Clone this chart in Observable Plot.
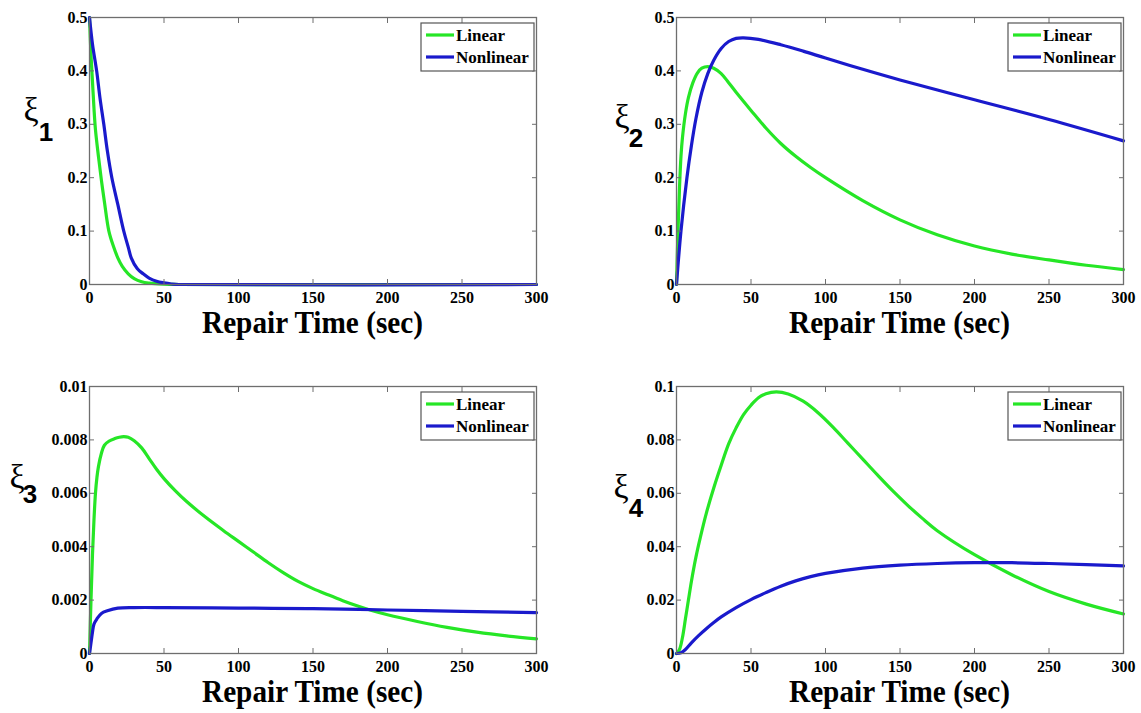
<!DOCTYPE html>
<html><head><meta charset="utf-8">
<script src="https://cdn.jsdelivr.net/npm/d3@7"></script>
<script src="https://cdn.jsdelivr.net/npm/@observablehq/plot@0.6"></script>
<style>
html,body{margin:0;padding:0;background:#fff;}
#wrap{position:relative;width:1141px;height:713px;background:#fff;}
.panel{position:absolute;}
</style></head><body><div id="wrap"></div>
<script>
const xTicks = [0, 50, 100, 150, 200, 250, 300];
const seriesNames = ["Linear", "Nonlinear"];
const xLabel = "Repair Time (sec)";

// Panel 1 (xi_1)
const tLin1 = [0, 1, 2, 3, 4, 6, 8, 10, 13, 16, 19, 22, 26, 30, 35, 40, 50, 60, 300];
const lin1  = [0.5, 0.43, 0.38, 0.33, 0.29, 0.24, 0.195, 0.155, 0.1, 0.072, 0.05, 0.034, 0.02, 0.011, 0.005, 0.0025, 0.0005, 0, 0];
const tNon1 = [0, 2, 4.8, 7, 9.6, 12, 15, 19, 23, 26, 28, 32, 36, 40, 45, 50, 55, 60, 300];
const non1  = [0.5, 0.45, 0.4, 0.35, 0.3, 0.25, 0.2, 0.15, 0.1, 0.07, 0.05, 0.03, 0.02, 0.012, 0.006, 0.003, 0.001, 0, 0];

// Panel 2 (xi_2)
const tLin2 = [0, 1, 2, 3, 4, 6, 8, 11, 14, 17, 21, 25, 30, 35, 40, 50, 60, 70, 80, 90, 100, 125, 150, 175, 200, 225, 250, 275, 300];
const lin2  = [0, 0.1, 0.18, 0.24, 0.275, 0.32, 0.35, 0.378, 0.396, 0.405, 0.408, 0.405, 0.395, 0.378, 0.36, 0.326, 0.293, 0.264, 0.24, 0.219, 0.2, 0.157, 0.121, 0.093, 0.072, 0.057, 0.046, 0.036, 0.028];
const tNon2 = [0, 3, 7, 10, 13, 17, 21, 25, 30, 35, 40, 45, 55, 70, 85, 100, 125, 150, 200, 250, 300];
const non2  = [0, 0.1, 0.2, 0.26, 0.31, 0.36, 0.395, 0.42, 0.442, 0.455, 0.461, 0.462, 0.459, 0.449, 0.437, 0.424, 0.403, 0.383, 0.346, 0.309, 0.269];

// Panel 3 (xi_3)
const tLin3 = [0, 1, 2, 3, 4, 5, 6, 8, 10, 13, 17, 20, 23, 26, 30, 35, 40, 45, 50, 57.5, 65, 78, 90, 100, 110, 120, 130, 140, 150, 160, 170, 180, 190, 200, 220, 240, 260, 280, 300];
const lin3  = [0, 0.002, 0.0037, 0.005, 0.006, 0.0066, 0.007, 0.0075, 0.0078, 0.00795, 0.00805, 0.0081, 0.00812, 0.0081, 0.00797, 0.0077, 0.0073, 0.0069, 0.00655, 0.0061, 0.0057, 0.0051, 0.0046, 0.0042, 0.0038, 0.0034, 0.00303, 0.0027, 0.00243, 0.0022, 0.00198, 0.00178, 0.0016, 0.00145, 0.0012, 0.00098, 0.0008, 0.00066, 0.00055];
const tNon3 = [0, 1, 2, 3, 5, 8, 12, 19, 30, 50, 100, 150, 200, 250, 300];
const non3  = [0, 0.0004, 0.0008, 0.0011, 0.0013, 0.0015, 0.0016, 0.0017, 0.00172, 0.00172, 0.0017, 0.00168, 0.00163, 0.00158, 0.00153];

// Panel 4 (xi_4)
const tLin4 = [0, 2, 4, 6, 8, 10, 13, 16, 20, 25, 30, 35, 40, 45, 50, 55, 60, 67, 75, 85, 95, 105, 115, 125, 135, 145, 155, 165, 175, 200, 225, 250, 275, 300];
const lin4  = [0, 0.0015, 0.006, 0.013, 0.02, 0.027, 0.036, 0.0435, 0.0525, 0.062, 0.0705, 0.0785, 0.0845, 0.0895, 0.093, 0.0958, 0.0973, 0.098, 0.0972, 0.0945, 0.0902, 0.0848, 0.0788, 0.0728, 0.0668, 0.061, 0.0556, 0.0506, 0.046, 0.037, 0.0295, 0.0232, 0.0185, 0.0148];
const tNon4 = [0, 3, 6, 10, 15, 20, 25, 30, 40, 50, 60, 70, 80, 90, 100, 125, 150, 175, 200, 225, 250, 275, 300];
const non4  = [0, 0.0003, 0.0015, 0.004, 0.0068, 0.0093, 0.0116, 0.0137, 0.0172, 0.0202, 0.0228, 0.0252, 0.0272, 0.0288, 0.03, 0.032, 0.0331, 0.0337, 0.034, 0.034, 0.0337, 0.0333, 0.0328];

const yTicks12 = [0, 0.1, 0.2, 0.3, 0.4, 0.5];
const yTicks3 = [0, 0.002, 0.004, 0.006, 0.008, 0.01];
const yTicks4 = [0, 0.02, 0.04, 0.06, 0.08, 0.1];
const subs = ["1", "2", "3", "4"];

const GREEN = "#26e626";
const BLUE = "#1a1acc";
const FRAME = "#6e6e6e";
const SERIF = "'Liberation Serif', 'Times New Roman', serif";
const SANS = "'Liberation Sans', Arial, sans-serif";

const rows = (t, v) => t.map((d, i) => ({t: d, v: v[i]}));
const fmt = d => d === 0 ? "0" : String(+d.toFixed(4));

const panels = [
  {left: 0, top: 0, w: 570, h: 360, mL: 89, mR: 34, mT: 17, mB: 76, yMax: 0.5, yTicks: yTicks12, lin: rows(tLin1, lin1), non: rows(tNon1, non1), sub: subs[0], xiX: 31, xiY: 121, sX: 46, sY: 141},
  {left: 570, top: 0, w: 571, h: 360, mL: 106, mR: 18, mT: 17, mB: 76, yMax: 0.5, yTicks: yTicks12, lin: rows(tLin2, lin2), non: rows(tNon2, non2), sub: subs[1], xiX: 52, xiY: 128, sX: 66, sY: 147},
  {left: 0, top: 360, w: 570, h: 353, mL: 89, mR: 34, mT: 26, mB: 60, yMax: 0.01, yTicks: yTicks3, lin: rows(tLin3, lin3), non: rows(tNon3, non3), sub: subs[2], xiX: 17, xiY: 128, sX: 30, sY: 143},
  {left: 570, top: 360, w: 571, h: 353, mL: 106, mR: 18, mT: 26, mB: 60, yMax: 0.1, yTicks: yTicks4, lin: rows(tLin4, lin4), non: rows(tNon4, non4), sub: subs[3], xiX: 51, xiY: 138, sX: 66, sY: 157}
];

const wrap = document.getElementById("wrap");

for (const p of panels) {
  const blank = () => "";
  const svg = Plot.plot({
    width: p.w, height: p.h,
    marginLeft: p.mL, marginRight: p.mR, marginTop: p.mT, marginBottom: p.mB,
    x: {domain: [0, 300]},
    y: {domain: [0, p.yMax]},
    style: {fontFamily: SERIF, fontSize: "16px", fontWeight: "bold", color: "#000", background: "transparent", overflow: "visible"},
    marks: [
      Plot.line(p.lin, {x: "t", y: "v", stroke: GREEN, strokeWidth: 3.2, curve: "catmull-rom"}),
      Plot.line(p.non, {x: "t", y: "v", stroke: BLUE, strokeWidth: 3.2, curve: "catmull-rom"}),
      Plot.frame({stroke: FRAME, strokeWidth: 1.3}),
      Plot.axisX(xTicks, {anchor: "bottom", tickSize: 0, tickPadding: 7, label: null, fontSize: 16, fontFamily: SERIF, fontWeight: "bold", fill: "#000"}),
      Plot.axisX(xTicks, {anchor: "bottom", tickSize: -5, tickFormat: blank, label: null, stroke: FRAME}),
      Plot.axisX(xTicks, {anchor: "top", tickSize: -5, tickFormat: blank, label: null, stroke: FRAME}),
      Plot.axisY(p.yTicks, {anchor: "left", tickSize: 0, tickPadding: 2, tickFormat: fmt, label: null, fontSize: 16, fontFamily: SERIF, fontWeight: "bold", fill: "#000"}),
      Plot.axisY(p.yTicks, {anchor: "left", tickSize: -5, tickFormat: blank, label: null, stroke: FRAME}),
      Plot.axisY(p.yTicks, {anchor: "right", tickSize: -5, tickFormat: blank, label: null, stroke: FRAME})
    ]
  });
  svg.classList.add("panel");
  svg.style.left = p.left + "px";
  svg.style.top = p.top + "px";
  wrap.appendChild(svg);

  const s = d3.select(svg);
  const plotL = p.mL, plotR = p.w - p.mR, plotT = p.mT, plotB = p.h - p.mB;

  // x axis title
  s.append("text")
    .attr("x", (plotL + plotR) / 2).attr("y", plotB + 49)
    .attr("text-anchor", "middle")
    .attr("textLength", 221).attr("lengthAdjust", "spacingAndGlyphs")
    .style("font-family", SERIF).style("font-weight", "bold").style("font-size", "32px")
    .attr("fill", "#000").text(xLabel);

  // y axis title: xi with subscript
  s.append("text")
    .attr("x", p.xiX).attr("y", p.xiY).attr("text-anchor", "middle")
    .style("font-family", SERIF).style("font-weight", "normal").style("font-size", "34px")
    .attr("fill", "#000").text("ξ");
  s.append("text")
    .attr("x", p.sX).attr("y", p.sY).attr("text-anchor", "middle")
    .style("font-family", SANS).style("font-weight", "bold").style("font-size", "26px")
    .attr("fill", "#000").text(p.sub);

  // legend
  const bx = plotR - 115, by = plotT + 6, bw = 113, bh = 48;
  const g = s.append("g");
  g.append("rect").attr("x", bx).attr("y", by).attr("width", bw).attr("height", bh)
    .attr("fill", "#fff").attr("stroke", "#555").attr("stroke-width", 1.2);
  const colors = [GREEN, BLUE];
  seriesNames.forEach((name, i) => {
    const ly = by + 12 + i * 22;
    g.append("line").attr("x1", bx + 5).attr("x2", bx + 33).attr("y1", ly).attr("y2", ly)
      .attr("stroke", colors[i]).attr("stroke-width", 3.2);
    g.append("text").attr("x", bx + 35).attr("y", ly + 6)
      .attr("text-anchor", "start")
      .style("font-family", SERIF).style("font-weight", "bold").style("font-size", "17px")
      .attr("fill", "#000").text(name);
  });
}
</script></body></html>
